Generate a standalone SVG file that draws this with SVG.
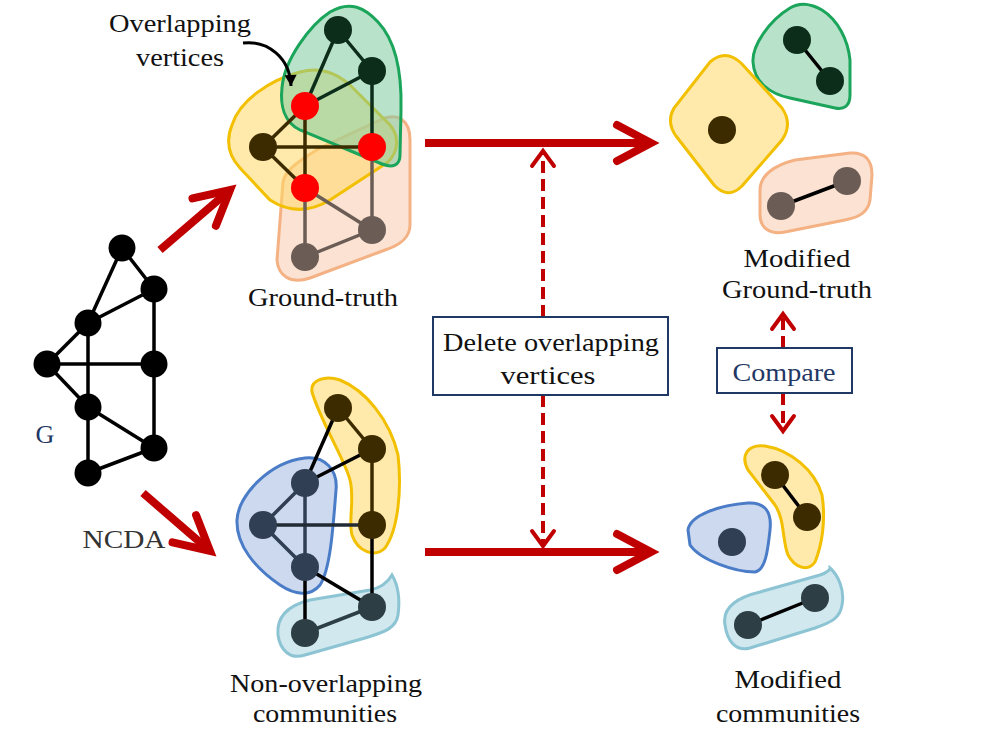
<svg xmlns="http://www.w3.org/2000/svg" width="1002" height="752" viewBox="0 0 1002 752">
<style>
text{font-family:'Liberation Serif',serif}
.t{font-size:26px;fill:#111;text-anchor:middle}
.nv{fill:#1f3864}
.e{stroke:#000;stroke-width:3.5;fill:none}
.red{stroke:#c00000;stroke-width:8;fill:none}
.dash{stroke:#c00000;stroke-width:4;fill:none;stroke-dasharray:12 6}
.box{fill:#fff;stroke:#1f3864;stroke-width:2}
.bg{fill:#7fcba0;fill-opacity:.55;stroke:#1aa55a;stroke-width:3}
.by{fill:#ffd966;fill-opacity:.55;stroke:#f2c000;stroke-width:3}
.bp{fill:#f8cbad;fill-opacity:.55;stroke:#f4b183;stroke-width:3}
.bb{fill:#8faadc;fill-opacity:.45;stroke:#4a7cc7;stroke-width:3}
.bl{fill:#a9d6e0;fill-opacity:.55;stroke:#8cc4d4;stroke-width:3}
</style>
<defs>
<marker id="bigHead" markerUnits="userSpaceOnUse" markerWidth="60" markerHeight="60" viewBox="-45 -30 60 60" refX="0" refY="0" orient="auto" overflow="visible">
<path d="M -34,-18 L 0,0 L -34,18" fill="none" stroke="#c00000" stroke-width="8" stroke-linecap="round"/>
</marker>
<marker id="smallHead" markerUnits="userSpaceOnUse" markerWidth="30" markerHeight="30" viewBox="-20 -15 30 30" refX="0" refY="0" orient="auto" overflow="visible">
<path d="M -15,-11 L 0,0 L -15,11" fill="none" stroke="#c00000" stroke-width="4" stroke-linecap="round"/>
</marker>
<marker id="blackHead" markerUnits="userSpaceOnUse" markerWidth="20" markerHeight="20" viewBox="-12 -8 20 16" refX="0" refY="0" orient="auto" overflow="visible">
<path d="M -11,-6 L 0,0 L -11,6 Z" fill="#000"/>
</marker>
</defs>
<rect width="1002" height="752" fill="#fff"/>

<!-- Input graph G -->
<g id="graphG">
<g class="e">
<line x1="122" y1="248" x2="154" y2="289"/>
<line x1="122" y1="248" x2="88" y2="323"/>
<line x1="154" y1="289" x2="88" y2="323"/>
<line x1="88" y1="323" x2="47" y2="364"/>
<line x1="88" y1="323" x2="88" y2="407"/>
<line x1="47" y1="364" x2="154" y2="364"/>
<line x1="154" y1="289" x2="154" y2="448"/>
<line x1="47" y1="364" x2="88" y2="407"/>
<line x1="88" y1="407" x2="154" y2="448"/>
<line x1="88" y1="407" x2="88" y2="473"/>
<line x1="88" y1="473" x2="154" y2="448"/>
</g>
<g fill="#000">
<circle cx="122" cy="248" r="13.5"/>
<circle cx="154" cy="289" r="13.5"/>
<circle cx="88" cy="323" r="13.5"/>
<circle cx="47" cy="364" r="13.5"/>
<circle cx="154" cy="364" r="13.5"/>
<circle cx="88" cy="407" r="13.5"/>
<circle cx="154" cy="448" r="13.5"/>
<circle cx="88" cy="473" r="13.5"/>
</g>
<text class="t nv" x="45" y="443" font-family="Liberation Serif">G</text>
</g>

<!-- Ground truth -->
<g id="groundTruth">
<path class="bp" d="M 283,182 C 285,170 300,160 320,148 L 380,120 C 398,112 410,120 410,140 L 410,225 C 410,238 400,245 385,250 L 310,278 C 290,285 278,275 277,260 Z"/>
<path class="by" d="M 232,125 C 240,100 270,80 300,72 C 320,67 335,72 350,85 L 390,125 C 400,137 398,152 388,162 L 330,200 C 310,212 290,213 270,200 L 240,168 C 228,155 226,140 232,125 Z"/>
<path class="bg" d="M 282,88 C 284,60 310,25 330,12 C 350,0 365,8 378,22 C 395,40 402,70 401,110 L 400,155 C 400,166 392,168 382,164 L 300,130 C 284,122 280,105 282,88 Z"/>
<g class="e">
<line x1="338" y1="30" x2="372" y2="71" stroke="#0c2d1a"/>
<line x1="338" y1="30" x2="305" y2="106" stroke="#0c2d1a"/>
<line x1="372" y1="71" x2="305" y2="106" stroke="#0c2d1a"/>
<line x1="372" y1="71" x2="372" y2="147" stroke="#0c2d1a"/>
<line x1="305" y1="106" x2="263" y2="147" stroke="#3d2b00"/>
<line x1="305" y1="106" x2="305" y2="188" stroke="#3d2b00"/>
<line x1="263" y1="147" x2="372" y2="147" stroke="#3d2b00"/>
<line x1="263" y1="147" x2="305" y2="188" stroke="#3d2b00"/>
<line x1="372" y1="147" x2="372" y2="230" stroke="#6b5d55"/>
<line x1="305" y1="188" x2="372" y2="230" stroke="#6b5d55"/>
<line x1="305" y1="188" x2="305" y2="257" stroke="#6b5d55"/>
<line x1="305" y1="257" x2="372" y2="230" stroke="#6b5d55"/>
</g>
<circle cx="338" cy="30" r="14" fill="#0c2d1a"/>
<circle cx="372" cy="71" r="14" fill="#0c2d1a"/>
<circle cx="263" cy="147" r="14" fill="#3d2b00"/>
<circle cx="372" cy="230" r="14" fill="#6b5d55"/>
<circle cx="305" cy="257" r="14" fill="#6b5d55"/>
<circle cx="305" cy="106" r="14" fill="#ff0000"/>
<circle cx="372" cy="147" r="14" fill="#ff0000"/>
<circle cx="305" cy="188" r="14" fill="#ff0000"/>
<text class="t" x="323" y="306" textLength="150" lengthAdjust="spacingAndGlyphs">Ground-truth</text>
</g>

<!-- Overlapping vertices label -->
<g id="overlapLabel">
<text class="t" x="180" y="32" textLength="142" lengthAdjust="spacingAndGlyphs">Overlapping</text>
<text class="t" x="180" y="66" textLength="88" lengthAdjust="spacingAndGlyphs">vertices</text>
<path d="M 243,43 C 268,40 290,58 291,86" fill="none" stroke="#000" stroke-width="3" marker-end="url(#blackHead)"/>
</g>

<!-- Non-overlapping communities -->
<g id="nonOverlapping">
<path class="by" d="M 312,392 C 310,380 325,375 340,380 C 365,390 390,420 398,455 C 402,490 398,530 385,548 C 375,558 358,552 352,535 C 348,520 355,500 350,480 C 345,460 320,420 312,392 Z"/>
<path class="bb" d="M 237,520 C 238,495 270,462 305,458 C 325,456 338,470 336,490 C 333,530 330,570 320,585 C 310,597 295,595 280,585 C 255,568 236,545 237,520 Z"/>
<path class="bl" d="M 278,635 C 276,615 290,605 310,600 L 370,590 C 380,588 388,582 392,575 C 398,585 400,600 398,615 C 396,628 385,632 365,638 L 305,655 C 290,660 280,650 278,635 Z"/>
<g class="e">
<line x1="338" y1="408" x2="372" y2="449" stroke="#3d2b00"/>
<line x1="338" y1="408" x2="305" y2="483"/>
<line x1="372" y1="449" x2="305" y2="483"/>
<line x1="372" y1="449" x2="372" y2="525" stroke="#3d2b00"/>
<line x1="305" y1="483" x2="263" y2="525" stroke="#313f55"/>
<line x1="305" y1="483" x2="305" y2="567" stroke="#313f55"/>
<line x1="263" y1="525" x2="372" y2="525" stroke="#222a35"/>
<line x1="263" y1="525" x2="305" y2="567" stroke="#313f55"/>
<line x1="372" y1="525" x2="372" y2="607"/>
<line x1="305" y1="567" x2="372" y2="607"/>
<line x1="305" y1="567" x2="305" y2="633"/>
<line x1="305" y1="633" x2="372" y2="607" stroke="#2d3e45"/>
</g>
<g fill="#3d2b00">
<circle cx="338" cy="408" r="14"/>
<circle cx="372" cy="449" r="14"/>
<circle cx="372" cy="525" r="14"/>
</g>
<g fill="#313f55">
<circle cx="305" cy="483" r="14"/>
<circle cx="263" cy="525" r="14"/>
<circle cx="305" cy="567" r="14"/>
</g>
<g fill="#2d3e45">
<circle cx="372" cy="607" r="14"/>
<circle cx="305" cy="633" r="14"/>
</g>
<text class="t" x="326" y="692" textLength="192" lengthAdjust="spacingAndGlyphs">Non-overlapping</text>
<text class="t" x="325" y="722" textLength="144" lengthAdjust="spacingAndGlyphs">communities</text>
</g>

<!-- Modified ground truth -->
<g id="modifiedGroundTruth">
<path class="bg" d="M 753,62 C 752,45 770,20 790,8 C 800,2 812,4 822,10 C 838,20 848,40 850,60 L 850,95 C 850,106 844,110 835,108 L 790,98 C 770,94 754,82 753,62 Z"/>
<path class="by" fill-opacity=".4" d="M 674,108 Q 666,122 676,136 L 714,185 Q 728,200 742,186 L 782,140 Q 793,124 782,108 L 742,64 Q 726,48 710,62 Z"/>
<path class="bp" fill-opacity=".45" d="M 760,190 C 760,175 775,165 795,160 L 850,153 C 865,152 872,160 872,175 L 870,200 C 868,212 860,217 845,220 L 785,232 C 770,235 760,228 760,215 Z"/>
<line class="e" x1="797" y1="40" x2="830" y2="81" stroke="#0c2d1a"/>
<line class="e" x1="781" y1="206" x2="847" y2="181" stroke="#6b5d55"/>
<circle cx="797" cy="40" r="14" fill="#0c2d1a"/>
<circle cx="830" cy="81" r="14" fill="#0c2d1a"/>
<circle cx="722" cy="130" r="14" fill="#3d2b00"/>
<circle cx="781" cy="206" r="14" fill="#6b5d55"/>
<circle cx="847" cy="181" r="14" fill="#6b5d55"/>
<text class="t" x="797" y="267" textLength="107" lengthAdjust="spacingAndGlyphs">Modified</text>
<text class="t" x="797" y="298" textLength="150" lengthAdjust="spacingAndGlyphs">Ground-truth</text>
</g>

<!-- Modified communities -->
<g id="modifiedCommunities">
<path class="by" d="M 748,470 C 740,455 748,444 765,446 C 790,450 815,470 822,495 C 826,520 822,545 815,562 C 808,572 795,568 788,555 C 782,540 785,520 775,505 Z"/>
<path class="bb" d="M 688,530 C 690,515 720,505 748,503 C 765,502 772,512 770,530 C 768,548 766,570 755,572 C 735,572 700,560 690,545 Z"/>
<path class="bl" d="M 725,625 C 722,608 735,598 760,592 L 820,575 C 826,573 830,570 830,568 C 838,575 845,590 842,605 C 840,618 832,622 815,628 L 750,648 C 735,652 727,640 725,625 Z"/>
<line class="e" x1="775" y1="475" x2="807" y2="517" stroke="#3d2b00"/>
<line class="e" x1="748" y1="625" x2="815" y2="598" stroke="#2d3e45"/>
<circle cx="775" cy="475" r="14" fill="#3d2b00"/>
<circle cx="807" cy="517" r="14" fill="#3d2b00"/>
<circle cx="732" cy="542" r="14" fill="#313f55"/>
<circle cx="748" cy="625" r="14" fill="#2d3e45"/>
<circle cx="815" cy="598" r="14" fill="#2d3e45"/>
<text class="t" x="788" y="688" textLength="107" lengthAdjust="spacingAndGlyphs">Modified</text>
<text class="t" x="788" y="722" textLength="144" lengthAdjust="spacingAndGlyphs">communities</text>
</g>

<!-- Connectors -->
<g id="connectors">
<line class="red" x1="160" y1="250" x2="230" y2="190" marker-end="url(#bigHead)"/>
<line class="red" x1="143" y1="493" x2="210" y2="551" marker-end="url(#bigHead)"/>
<line class="red" x1="425" y1="143" x2="651" y2="143" marker-end="url(#bigHead)"/>
<line class="red" x1="425" y1="552" x2="651" y2="552" marker-end="url(#bigHead)"/>
<line class="dash" x1="543" y1="317" x2="543" y2="151" marker-end="url(#smallHead)"/>
<line class="dash" x1="543" y1="395" x2="543" y2="546" marker-end="url(#smallHead)"/>
<line class="dash" x1="783" y1="348" x2="783" y2="314" marker-end="url(#smallHead)"/>
<line class="dash" x1="783" y1="393" x2="783" y2="431" marker-end="url(#smallHead)"/>
</g>

<g id="ncdaLabel">
<text class="t" x="124" y="548" textLength="83" lengthAdjust="spacingAndGlyphs" style="fill:#333">NCDA</text>
</g>

<g id="deleteBox">
<rect class="box" x="433" y="317" width="235" height="78"/>
<text class="t" x="551" y="351" textLength="216" lengthAdjust="spacingAndGlyphs">Delete overlapping</text>
<text class="t" x="548" y="384" textLength="95" lengthAdjust="spacingAndGlyphs">vertices</text>
</g>

<g id="compareBox">
<rect class="box" x="717" y="348" width="135" height="45"/>
<text class="t nv" x="784" y="381" textLength="103" lengthAdjust="spacingAndGlyphs">Compare</text>
</g>
</svg>
